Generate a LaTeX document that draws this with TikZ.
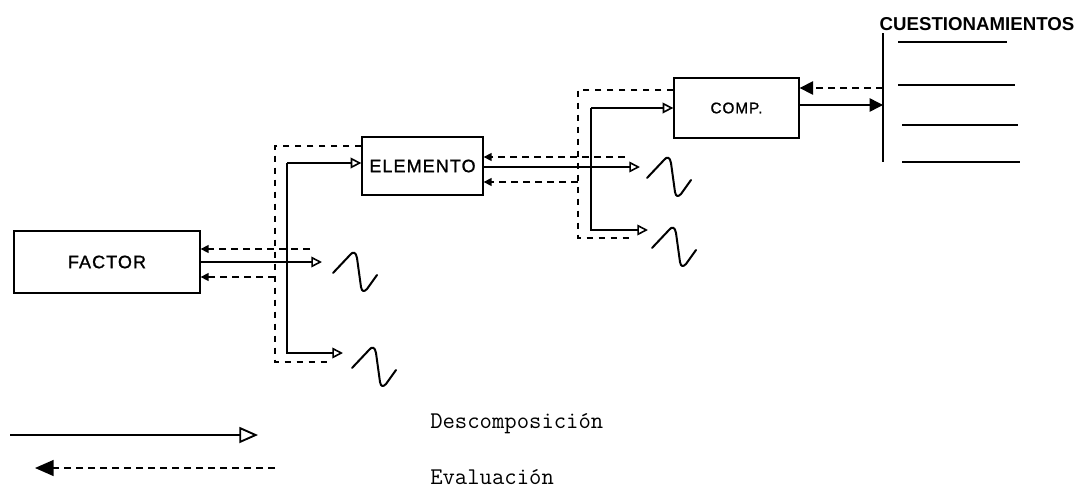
\documentclass[tikz,border=0pt]{standalone}
\usepackage{fontspec}
\setmainfont{Liberation Sans}
\newfontfamily\lblfont[LetterSpace=6, FakeBold=1.2]{Liberation Sans}
\usetikzlibrary{arrows.meta}
\begin{document}
\begin{tikzpicture}[x=0.75pt,y=-0.75pt,
  box/.style={draw, line width=1pt, rectangle, inner sep=0pt, font=\lblfont\fontsize{13.5}{15}\selectfont},
  sol/.style={line width=1.1pt},
  dsh/.style={line width=1.1pt, dash pattern=on 5pt off 4pt},
  opentip/.style={-{Triangle[open,length=8pt,width=8pt,line width=1.2pt]}},
  evtip/.style={-{Triangle[length=6pt,width=6pt]}},
  bigtip/.style={-{Triangle[length=10pt,width=10pt]}},
  wavestyle/.style={line width=1.5pt, line cap=round, line join=round},
  wave/.pic={\draw[wavestyle] (0,0) -- (17,-18) .. controls (20,-22) and (23,-21) .. (24,-15) -- (28,14) .. controls (29,19) and (31,19) .. (34,16) -- (44,2);},
  legtxt/.style={anchor=west, inner sep=0pt, font=\ttfamily\fontsize{18}{20}\selectfont}
]
\useasboundingbox (0,0) rectangle (1082,490);

% boxes
\node[box, minimum width=139.5pt, minimum height=46.5pt] (factor) at (107,262) {FACTOR};
\node[box, minimum width=90.75pt, minimum height=43.5pt] (elemento) at (422.5,166) {ELEMENTO};
\node[box, minimum width=93.75pt, minimum height=45pt, font=\lblfont\fontsize{11.5}{13}\selectfont] (comp) at (736.5,108) {COMP.};

% FACTOR outputs
\draw[dsh, evtip] (310,249) -- (factor.east |- 310,249);
\draw[sol, opentip] (factor.east) -- (322,262);
\draw[dsh, evtip] (275,277) -- (factor.east |- 275,277);
\draw[dsh] (elemento.west |- 360,146) -- (275,146) -- (275,362) -- (330,362);
\draw[sol, opentip] (287,163) -- (elemento.west |- 287,163);
\draw[sol, opentip] (287,163) -- (287,353) -- (343,353);
\pic at (333,273) {wave};
\pic at (352,368) {wave};

% ELEMENTO outputs
\draw[dsh, evtip] (625,157) -- (elemento.east |- 625,157);
\draw[sol, opentip] (elemento.east |- 500,167) -- (640,167);
\draw[dsh, evtip] (578,182) -- (elemento.east |- 578,182);
\draw[dsh] (comp.west |- 670,90) -- (578,90) -- (578,238) -- (632,238);
\draw[sol, opentip] (591,108) -- (comp.west |- 591,108);
\draw[sol, opentip] (591,108) -- (591,230) -- (648,230);
\pic at (647,178) {wave};
\pic at (652,248) {wave};

% COMP outputs
\coordinate (bartop) at (883,33);
\coordinate (barbot) at (883,162);
\draw[sol] (bartop) -- (barbot);
\draw[dsh, bigtip] (883,88) -- (comp.east |- 883,88);
\draw[sol, bigtip] (comp.east |- 883,105) -- (883,105);
\draw[sol] (898,42) -- (1007,42);
\draw[sol] (898,85) -- (1015,85);
\draw[sol] (902,125) -- (1018,125);
\draw[sol] (902,162) -- (1020,162);
\node[font=\bfseries\fontsize{14}{16}\selectfont, inner sep=0pt] (cuest) at (977,24) {CUESTIONAMIENTOS};

% legend
\node[legtxt] (ldesc) at (430,424) {Descomposición};
\node[legtxt] (leval) at (430,477) {Evaluación};
\draw[sol, -{Triangle[open,length=14pt,width=12pt,line width=1.4pt]}] (10,435) -- (258,435);
\draw[dsh, -{Triangle[length=14pt,width=12pt]}] (275,468) -- (35,468);
\end{tikzpicture}
\end{document}
